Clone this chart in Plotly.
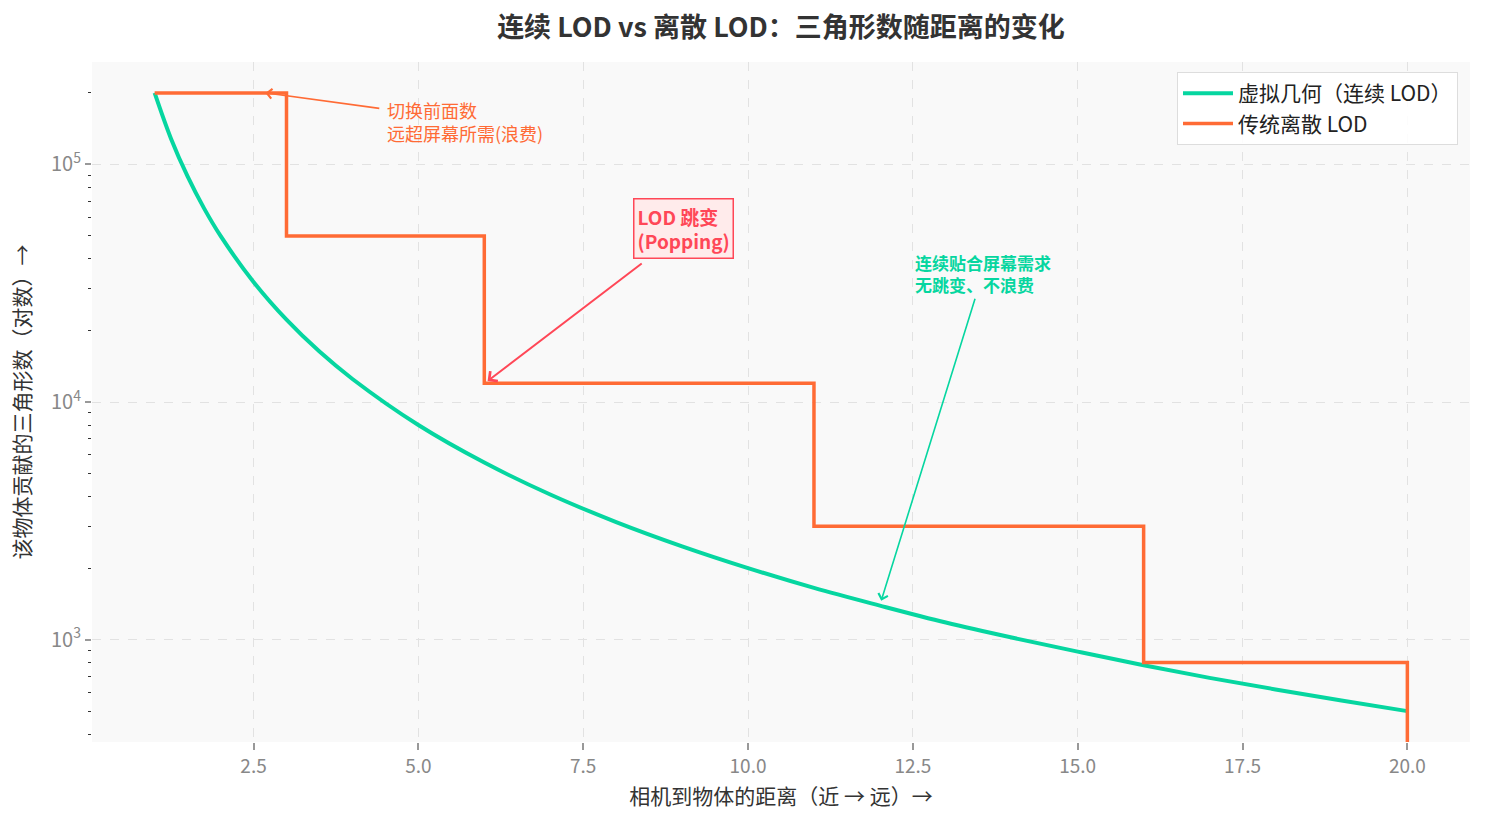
import plotly.graph_objects as go
import math

# ---- data ----
dist_cont = [1, 1.25, 1.5, 1.75, 2, 2.5, 3, 3.5, 4, 5, 6, 7, 8, 9, 10,
             11, 12, 13, 14, 15, 16, 17, 18, 19, 20]
tri_cont = [200000, 128000, 89000, 65300, 50000, 32000, 22200, 16300, 12500,
            8000, 5560, 4080, 3125, 2470, 2000, 1650, 1390, 1180, 1020, 890,
            780, 690, 617, 554, 500]

dist_step = [1, 3, 6, 11, 16, 20]
tri_step = [200000, 50000, 12000, 3000, 800, 200]

x_ticks = [2.5, 5.0, 7.5, 10.0, 12.5, 15.0, 17.5, 20.0]
y_ticks = [1e3, 1e4, 1e5]
y_ticktext = ["10<sup>3</sup>", "10<sup>4</sup>", "10<sup>5</sup>"]

GREEN = "#06D6A0"
ORANGE = "#FF6B35"
RED = "#FF4757"
FONT = "Noto Sans CJK SC"

fig = go.Figure()
fig.add_trace(go.Scatter(x=dist_cont, y=tri_cont, mode="lines", name="虚拟几何（连续 LOD）",
                         line=dict(color=GREEN, width=4, shape="spline")))
fig.add_trace(go.Scatter(x=dist_step, y=tri_step, mode="lines", name="传统离散 LOD",
                         line=dict(color=ORANGE, width=3.5, shape="hv")))

minor_vals = []
for e in [2, 3, 4, 5]:
    for m in range(2, 10):
        minor_vals.append(m * 10 ** e)

fig.update_layout(
    width=1485, height=824,
    margin=dict(l=92, r=15, t=62, b=82),
    paper_bgcolor="white",
    plot_bgcolor="#F9F9F9",
    font=dict(family=FONT, color="#333"),
    title=dict(text="<b>连续 LOD vs 离散 LOD：三角形数随距离的变化</b>",
               xref="paper", x=0.5, xanchor="center", y=0.967, yanchor="middle",
               font=dict(size=27, color="#333", family=FONT)),
    legend=dict(x=1 - 12 / 1378, y=1 - 10 / 680, xanchor="right", yanchor="top",
                bgcolor="rgba(255,255,255,0.9)", bordercolor="#DDDDDD", borderwidth=1,
                font=dict(size=21, color="#222", family=FONT), itemwidth=50,
                tracegroupgap=4),
    showlegend=True,
)

fig.update_xaxes(range=[0.05, 20.95], tickvals=x_ticks,
                 ticktext=[f"{v:.1f}" for v in x_ticks],
                 showgrid=True, gridcolor="#E2E2E2", griddash="dash", gridwidth=1,
                 zeroline=False, showline=False,
                 ticks="outside", ticklen=7, tickcolor="#999", tickwidth=1.5,
                 tickfont=dict(size=19, color="#888"),
                 title=dict(text="相机到物体的距离（近 → 远）→", font=dict(size=21, color="#333"),
                            standoff=12))

fig.update_yaxes(type="log", range=[2.569, 5.431], tickvals=y_ticks, ticktext=y_ticktext,
                 showgrid=True, gridcolor="#E2E2E2", griddash="dash", gridwidth=1,
                 zeroline=False, showline=False,
                 ticks="outside", ticklen=6, tickcolor="#999", tickwidth=1.5,
                 tickfont=dict(size=20, color="#888"),
                 minor=dict(ticks="outside", ticklen=3, tickcolor="#333", tickwidth=1,
                            tickvals=minor_vals, showgrid=False),
                 title=dict(text="该物体贡献的三角形数（对数）→", font=dict(size=21, color="#333"),
                            standoff=14))

# annotation: orange waste
fig.add_annotation(x=2.68, y=5.301, ax=4.43, ay=5.235, xref="x", yref="y", axref="x", ayref="y",
                   text="", showarrow=True, arrowhead=4, arrowsize=1.2, arrowwidth=1.6,
                   arrowcolor=ORANGE)
fig.add_annotation(x=4.5, y=math.log10(1.52e5), xref="x", yref="y", text="切换前面数<br>远超屏幕所需(浪费)",
                   showarrow=False, xanchor="left", yanchor="middle", align="left",
                   font=dict(size=18, color=ORANGE, family=FONT))

# annotation: popping
fig.add_annotation(x=6.05, y=4.088, ax=8.41, ay=4.588, xref="x", yref="y", axref="x", ayref="y",
                   text="", showarrow=True, arrowhead=4, arrowsize=1.2, arrowwidth=2,
                   arrowcolor=RED)
fig.add_annotation(x=9.02, y=4.731, xref="x", yref="y", text="<b>LOD 跳变<br>(Popping)</b>",
                   showarrow=False, xanchor="center", yanchor="middle", align="left",
                   font=dict(size=19, color=RED, family=FONT),
                   bgcolor="#FFEBEB", bordercolor=RED, borderwidth=1.5, borderpad=3)

# annotation: continuous
fig.add_annotation(x=12.02, y=3.164, ax=13.45, ay=4.441, xref="x", yref="y", axref="x", ayref="y",
                   text="", showarrow=True, arrowhead=4, arrowsize=1.2, arrowwidth=1.6,
                   arrowcolor=GREEN)
fig.add_annotation(x=12.5, y=4.542, xref="x", yref="y", text="<b>连续贴合屏幕需求<br>无跳变、不浪费</b>",
                   showarrow=False, xanchor="left", yanchor="middle", align="left",
                   font=dict(size=17, color=GREEN, family=FONT))

fig.write_html("out.html")
